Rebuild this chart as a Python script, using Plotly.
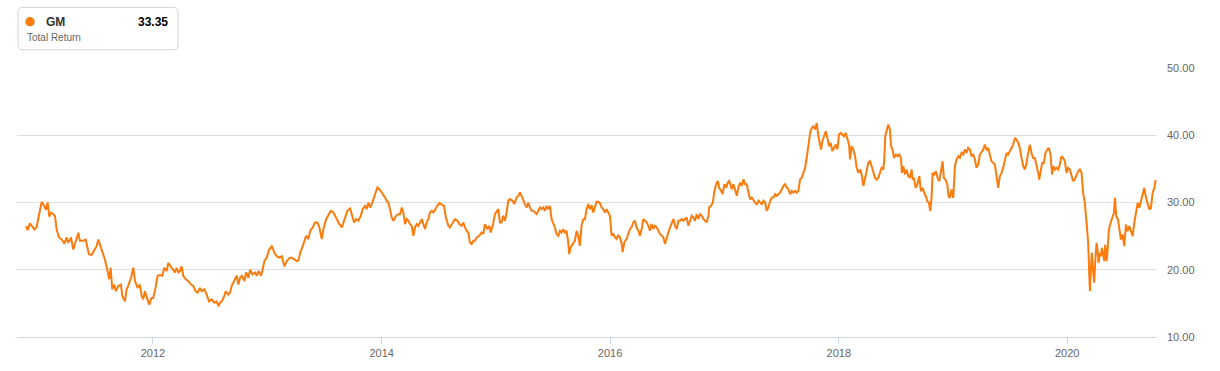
import numpy as np
import pandas as pd
import plotly.graph_objects as go

# ---------------- data ----------------
series_name = "GM"
series_subtitle = "Total Return"
last_value_label = "33.35"

# decimal years
years = [
    2010.889, 2010.903, 2010.924, 2010.944, 2010.962, 2010.982, 2010.991, 2011.011, 2011.026, 2011.049,
    2011.064, 2011.078, 2011.093, 2011.108, 2011.128, 2011.143, 2011.157, 2011.178, 2011.201, 2011.224,
    2011.245, 2011.259, 2011.283, 2011.303, 2011.326, 2011.347, 2011.361, 2011.390, 2011.411, 2011.420,
    2011.440, 2011.463, 2011.487, 2011.507, 2011.522, 2011.545, 2011.565, 2011.580, 2011.603, 2011.618,
    2011.630, 2011.644, 2011.662, 2011.676, 2011.697, 2011.720, 2011.732, 2011.755, 2011.770, 2011.784,
    2011.808, 2011.828, 2011.843, 2011.866, 2011.886, 2011.901, 2011.915, 2011.930, 2011.953, 2011.968,
    2011.988, 2012.003, 2012.023, 2012.041, 2012.061, 2012.082, 2012.099, 2012.120, 2012.134, 2012.157,
    2012.178, 2012.192, 2012.207, 2012.222, 2012.236, 2012.251, 2012.265, 2012.286, 2012.309, 2012.332,
    2012.353, 2012.373, 2012.391, 2012.411, 2012.426, 2012.449, 2012.470, 2012.490, 2012.513, 2012.537,
    2012.557, 2012.572, 2012.586, 2012.601, 2012.624, 2012.636, 2012.659, 2012.674, 2012.688, 2012.703,
    2012.717, 2012.732, 2012.747, 2012.761, 2012.776, 2012.799, 2012.814, 2012.834, 2012.849, 2012.869,
    2012.892, 2012.907, 2012.922, 2012.945, 2012.957, 2012.974, 2012.994, 2013.015, 2013.038, 2013.062,
    2013.082, 2013.102, 2013.126, 2013.149, 2013.169, 2013.190, 2013.213, 2013.237, 2013.257, 2013.272,
    2013.286,
    2013.315, 2013.339, 2013.359, 2013.374, 2013.397, 2013.417, 2013.438, 2013.455, 2013.476, 2013.490,
    2013.514, 2013.534, 2013.554, 2013.578, 2013.592, 2013.613, 2013.630, 2013.651, 2013.665, 2013.680,
    2013.700, 2013.724, 2013.738, 2013.759, 2013.776, 2013.796, 2013.817, 2013.834, 2013.855, 2013.869,
    2013.884, 2013.899, 2013.913, 2013.928, 2013.942, 2013.963, 2013.980, 2014.001, 2014.015, 2014.030,
    2014.044, 2014.059, 2014.073, 2014.088, 2014.103, 2014.126, 2014.146, 2014.161, 2014.176, 2014.190,
    2014.205, 2014.219, 2014.234, 2014.248, 2014.263, 2014.278, 2014.292, 2014.307, 2014.321, 2014.336,
    2014.351, 2014.365, 2014.380, 2014.394, 2014.409, 2014.423, 2014.438, 2014.453, 2014.467, 2014.488,
    2014.505, 2014.526, 2014.546, 2014.563, 2014.584, 2014.598, 2014.622, 2014.642, 2014.663, 2014.680,
    2014.700, 2014.715, 2014.730, 2014.744, 2014.759, 2014.773, 2014.788, 2014.803, 2014.817, 2014.832,
    2014.855, 2014.875, 2014.890, 2014.905, 2014.925, 2014.943, 2014.954, 2014.972, 2014.992, 2015.007,
    2015.021, 2015.036, 2015.050, 2015.065, 2015.080, 2015.094, 2015.109, 2015.123, 2015.147, 2015.161,
    2015.182, 2015.196, 2015.211, 2015.225, 2015.240, 2015.255, 2015.269, 2015.284, 2015.298, 2015.313,
    2015.327, 2015.342, 2015.357, 2015.371, 2015.386, 2015.400, 2015.415, 2015.430, 2015.444, 2015.459,
    2015.473, 2015.488, 2015.502, 2015.517, 2015.532, 2015.546, 2015.561, 2015.575, 2015.590, 2015.605,
    2015.619, 2015.634, 2015.642, 2015.654, 2015.672, 2015.692, 2015.707, 2015.721, 2015.736, 2015.750,
    2015.765, 2015.780,
    2015.795, 2015.809, 2015.824, 2015.838, 2015.853, 2015.867, 2015.882, 2015.897, 2015.911, 2015.926,
    2015.940, 2015.955, 2015.970, 2015.984, 2015.999, 2016.013, 2016.028, 2016.042, 2016.057, 2016.072,
    2016.086, 2016.101, 2016.110, 2016.124, 2016.145, 2016.159, 2016.174, 2016.188, 2016.203, 2016.217,
    2016.232, 2016.247, 2016.261, 2016.276, 2016.290, 2016.305, 2016.320, 2016.334, 2016.349, 2016.363,
    2016.378, 2016.392, 2016.407, 2016.422, 2016.436, 2016.451, 2016.465, 2016.480, 2016.494, 2016.509,
    2016.524, 2016.538, 2016.553, 2016.567, 2016.582, 2016.597, 2016.611, 2016.626, 2016.640, 2016.655,
    2016.669, 2016.684, 2016.699, 2016.713, 2016.728, 2016.742, 2016.757, 2016.772, 2016.786, 2016.801,
    2016.815, 2016.830, 2016.844, 2016.859, 2016.865, 2016.882, 2016.897, 2016.912, 2016.926, 2016.941,
    2016.952, 2016.970, 2016.982, 2016.999, 2017.014, 2017.028, 2017.040, 2017.052, 2017.063, 2017.078,
    2017.092, 2017.107, 2017.121, 2017.136, 2017.151, 2017.165, 2017.180, 2017.194, 2017.209, 2017.224,
    2017.238, 2017.253, 2017.267, 2017.282, 2017.297, 2017.311, 2017.326, 2017.340, 2017.355, 2017.369,
    2017.384, 2017.399, 2017.413, 2017.428, 2017.442, 2017.457, 2017.472, 2017.486, 2017.501, 2017.515,
    2017.530, 2017.544, 2017.559, 2017.574, 2017.588, 2017.603, 2017.617, 2017.632, 2017.646, 2017.661,
    2017.676, 2017.690, 2017.705, 2017.719, 2017.734, 2017.749, 2017.763, 2017.778, 2017.792, 2017.807,
    2017.821, 2017.836, 2017.845, 2017.856, 2017.871, 2017.886, 2017.900, 2017.915, 2017.929, 2017.944,
    2017.959, 2017.973, 2017.988, 2018.002, 2018.017, 2018.031, 2018.046, 2018.061, 2018.075, 2018.090,
    2018.098, 2018.113, 2018.128, 2018.142, 2018.157, 2018.171, 2018.186, 2018.200, 2018.215, 2018.230,
    2018.244, 2018.259, 2018.273,
    2018.288, 2018.302, 2018.317, 2018.331, 2018.346, 2018.360, 2018.375, 2018.390, 2018.398, 2018.407,
    2018.419, 2018.433, 2018.448, 2018.457, 2018.471, 2018.483, 2018.500, 2018.515, 2018.530, 2018.544,
    2018.553, 2018.565, 2018.579, 2018.594, 2018.608, 2018.623, 2018.638, 2018.646, 2018.658, 2018.673,
    2018.687, 2018.705, 2018.719, 2018.734, 2018.748, 2018.763, 2018.775, 2018.789, 2018.801, 2018.813,
    2018.821, 2018.836, 2018.850, 2018.865, 2018.880, 2018.894, 2018.909, 2018.920, 2018.935, 2018.950,
    2018.961, 2018.973, 2018.987, 2019.002, 2019.017, 2019.031, 2019.046, 2019.060, 2019.075, 2019.090,
    2019.104, 2019.119, 2019.133, 2019.148, 2019.162, 2019.177, 2019.192, 2019.206, 2019.221, 2019.235,
    2019.250, 2019.265, 2019.279, 2019.294, 2019.308, 2019.323, 2019.337, 2019.352, 2019.367, 2019.381,
    2019.396, 2019.410, 2019.425, 2019.439, 2019.454, 2019.469, 2019.483, 2019.498, 2019.512, 2019.527,
    2019.542, 2019.556, 2019.571, 2019.585, 2019.600, 2019.615, 2019.629, 2019.644, 2019.658, 2019.673,
    2019.687, 2019.702, 2019.717, 2019.731, 2019.746, 2019.755, 2019.766, 2019.781, 2019.795, 2019.810,
    2019.825, 2019.839, 2019.854, 2019.868, 2019.877, 2019.892, 2019.906, 2019.921, 2019.935, 2019.950,
    2019.964, 2019.979, 2019.994, 2020.008, 2020.023, 2020.037, 2020.052, 2020.066, 2020.081, 2020.096,
    2020.110, 2020.125, 2020.139, 2020.154, 2020.169, 2020.183, 2020.192, 2020.198, 2020.207, 2020.215,
    2020.227, 2020.236, 2020.244, 2020.256, 2020.265, 2020.274, 2020.285, 2020.294, 2020.303, 2020.314,
    2020.323, 2020.332, 2020.344, 2020.352, 2020.364, 2020.379, 2020.393, 2020.408, 2020.417, 2020.428,
    2020.443, 2020.454, 2020.469, 2020.484, 2020.498, 2020.513, 2020.527, 2020.542, 2020.557, 2020.571,
    2020.586, 2020.600, 2020.615, 2020.630, 2020.644, 2020.659, 2020.673, 2020.688, 2020.702, 2020.717,
    2020.731, 2020.746, 2020.761, 2020.772,
]

values = [
    26.5, 25.9, 26.9, 26.4, 26.0, 26.4, 27.1, 28.8, 30.1, 29.5,
    28.9, 30.0, 27.9, 28.5, 28.3, 27.9, 26.0, 24.8, 24.5, 23.9,
    24.8, 24.0, 24.8, 23.0, 24.5, 25.5, 24.3, 24.3, 24.5, 23.8,
    22.3, 22.2, 23.0, 23.5, 24.5, 23.3, 22.5, 21.5, 19.8, 18.6,
    20.3, 17.1, 17.8, 16.8, 17.6, 17.8, 16.1, 15.3, 17.1, 17.6,
    18.8, 20.3, 18.3, 17.3, 17.8, 16.1, 15.6, 16.8, 15.6, 14.8,
    15.8, 15.8, 17.3, 19.1, 19.2, 19.1, 20.3, 19.8, 21.0, 20.5,
    20.0, 19.6, 20.3, 19.6, 19.8, 20.5, 19.1, 18.6, 18.3, 17.8,
    17.6, 16.8, 16.6, 17.3, 16.8, 17.1, 16.3, 15.3, 15.6, 15.1,
    15.3, 14.6, 15.1, 15.3, 16.1, 16.8, 16.3, 16.6, 17.6, 18.1,
    18.8, 19.1, 17.8, 18.8, 19.1, 18.3, 19.6, 18.8, 20.0, 19.3,
    19.6, 19.1, 19.8, 19.1, 20.0, 21.3, 21.8, 23.0, 23.5, 22.5,
    22.0, 21.8, 22.0, 20.5, 21.3, 21.7, 21.8, 21.5, 21.3, 21.4,
    22.5,
    23.81, 25.05, 24.55, 25.79, 26.29, 27.03, 27.03, 26.29, 24.55, 26.04,
    27.52, 28.27, 28.76, 28.51, 28.02, 27.52, 26.78, 26.29, 27.03, 28.02,
    28.76, 29.11, 28.27, 27.03, 27.52, 27.28, 28.02, 29.01, 29.50, 29.01,
    30.00, 29.26, 29.75, 30.50, 31.49, 32.23, 31.98, 31.49, 30.99, 30.74,
    30.25, 30.00, 29.01, 27.77, 27.28, 28.02, 28.27, 28.27, 29.26, 28.51,
    26.78, 27.52, 27.28, 26.78, 26.53, 25.05, 26.29, 26.78, 26.53, 27.03,
    27.52, 26.78, 26.04, 27.03, 27.52, 28.51, 28.76, 28.51, 29.01, 29.50,
    29.90, 29.75, 29.50, 27.77, 26.53, 26.29, 27.03, 27.52, 27.28, 26.78,
    26.53, 27.03, 26.29, 25.79, 25.54, 24.06, 23.81, 24.31, 24.31, 24.80,
    25.05, 25.54, 25.30, 26.78, 26.04, 26.53, 25.54, 26.53, 28.27, 28.76,
    29.01, 27.03, 27.03, 28.02, 27.28, 28.51, 30.25, 30.50, 30.25, 29.75,
    30.74, 30.99, 31.49, 30.99, 30.25, 29.75, 29.26, 30.00, 29.26, 28.76,
    28.76, 28.51, 28.27, 28.76, 29.26, 29.01, 29.26, 28.76, 29.50, 29.01,
    29.50, 27.52, 27.03, 26.29, 25.30, 25.05, 25.79, 25.54, 26.04, 25.54,
    25.79, 24.06, 22.33, 23.32, 23.81, 24.31, 25.79, 25.05, 23.56, 26.53,
    27.52, 27.52,
    29.01, 29.75, 29.01, 29.61, 28.52, 29.26, 30.10, 30.10, 29.90, 29.26,
    29.01, 28.52, 29.01, 28.52, 28.03, 25.07, 25.32, 24.83, 24.58, 25.17,
    24.83, 23.84, 22.61, 24.09, 24.58, 25.32, 26.06, 26.31, 27.04, 27.29,
    26.31, 25.81, 25.07, 26.06, 27.54, 27.29, 27.04, 26.55, 25.81, 26.80,
    26.06, 26.55, 26.31, 25.81, 25.32, 25.07, 24.83, 23.84, 24.83, 25.57,
    26.31, 26.80, 27.54, 26.55, 26.06, 27.29, 27.29, 27.54, 27.29, 27.54,
    27.78, 26.55, 27.29, 28.03, 27.78, 27.29, 28.28, 27.54, 28.28, 28.03,
    27.54, 27.29, 27.04, 28.03, 29.26, 29.51, 30.00, 31.72, 32.71, 33.20,
    32.22, 31.72, 31.23, 32.71, 32.22, 32.96, 33.20, 32.71, 31.97, 32.71,
    31.97, 30.99, 32.22, 32.96, 32.46, 33.45, 32.71, 32.71, 31.48, 30.49,
    30.74, 30.25, 30.00, 29.75, 30.25, 30.00, 29.75, 30.25, 30.00, 28.77,
    29.26, 30.25, 30.74, 30.74, 31.23, 30.99, 31.23, 31.48, 31.97, 32.46,
    32.71, 32.22, 31.97, 31.23, 31.72, 31.48, 31.72, 31.48, 31.72, 33.45,
    33.69, 34.43, 35.17, 36.65, 38.37, 40.34, 41.08, 41.33, 40.84, 41.82,
    39.85, 38.62, 37.88, 39.11, 39.85, 40.59, 39.61, 38.37, 38.87, 37.64,
    38.13, 38.62, 37.88, 40.10, 40.34, 40.10, 39.85, 40.34, 39.61, 38.62,
    36.40, 38.37, 37.88, 36.90, 35.17, 34.43, 34.93, 34.19, 32.46, 33.45,
    34.68, 35.91, 36.16,
    35.40, 34.65, 33.66, 33.42, 33.66, 34.41, 35.15, 34.90, 36.39, 39.85,
    40.59, 41.58, 40.84, 38.37, 37.87, 36.63, 37.13, 36.88, 37.13, 36.63,
    34.41, 35.40, 34.16, 34.90, 33.91, 33.66, 34.90, 33.42, 33.66, 32.18,
    32.67, 33.91, 31.68, 32.18, 31.44, 30.94, 30.20, 29.95, 28.71, 30.94,
    34.41, 34.16, 34.65, 33.66, 33.17, 34.90, 36.14, 33.66, 33.42, 32.67,
    30.94, 30.69, 31.93, 30.69, 35.40, 36.39, 36.88, 36.63, 37.38, 37.13,
    37.87, 37.38, 38.12, 37.87, 36.88, 37.13, 36.39, 35.15, 35.64, 37.13,
    37.62, 37.87, 38.61, 37.87, 38.12, 37.13, 36.14, 35.89, 35.64, 33.91,
    32.18, 33.91, 34.41, 35.15, 36.14, 37.38, 37.13, 37.62, 38.12, 38.61,
    39.60, 39.36, 38.86, 38.12, 36.63, 35.40, 34.90, 35.89, 37.38, 38.61,
    37.38, 36.63, 36.63, 35.64, 34.41, 33.42, 34.65, 35.89, 35.89, 37.38,
    37.87, 38.12, 37.13, 34.16, 35.40, 34.90, 35.15, 34.90, 35.64, 36.88,
    36.63, 36.14, 34.41, 35.15, 34.90, 33.91, 33.17, 33.42, 34.16, 34.65,
    34.90, 34.41, 31.44, 29.95, 26.98, 24.01, 19.55, 16.83, 20.05, 22.52,
    19.55, 18.07, 21.04, 24.01, 23.02, 21.04, 22.52, 22.03, 23.27, 22.03,
    21.29, 23.76, 21.29, 22.77, 25.99, 26.98, 27.72, 28.47, 30.69, 27.97,
    27.48, 26.24, 24.50, 25.25, 23.51, 26.73, 25.74, 26.49, 25.50, 25.00,
    26.98, 28.71, 29.95, 29.21, 30.20, 30.94, 32.18, 30.69, 29.70, 28.96,
    29.21, 31.44, 32.18, 33.35,
]

x_tick_years = [2012, 2014, 2016, 2018, 2020]
y_ticks = [10, 20, 30, 40, 50]
x_range_years = [2010.810, 2020.784]

# ---------------- helpers ----------------
def dec_to_ts(y):
    yr = int(np.floor(y))
    start = pd.Timestamp(year=yr, month=1, day=1)
    end = pd.Timestamp(year=yr + 1, month=1, day=1)
    return start + (end - start) * (y - yr)

dates = [dec_to_ts(y) for y in years]

LINE_COLOR = "#fb7b0c"
FONT = "Liberation Sans, Arial, sans-serif"

W, H = 1220, 371
L, R, T, B = 17, 63, 68, 30
PW, PH = W - L - R, H - T - B

def fx(px):
    return (px - L) / PW

def fy(py):
    return (H - B - py) / PH

# ---------------- figure ----------------
fig = go.Figure()
fig.add_trace(go.Scatter(
    x=dates, y=values, mode="lines",
    line=dict(color=LINE_COLOR, width=2),
    hoverinfo="skip", showlegend=False,
))

# legend box (rounded rectangle)
x0, x1, y0, y1, r = 18, 178, 6.5, 49.5, 5
path = (
    f"M {fx(x0 + r)},{fy(y0)} L {fx(x1 - r)},{fy(y0)} "
    f"Q {fx(x1)},{fy(y0)} {fx(x1)},{fy(y0 + r)} "
    f"L {fx(x1)},{fy(y1 - r)} Q {fx(x1)},{fy(y1)} {fx(x1 - r)},{fy(y1)} "
    f"L {fx(x0 + r)},{fy(y1)} Q {fx(x0)},{fy(y1)} {fx(x0)},{fy(y1 - r)} "
    f"L {fx(x0)},{fy(y0 + r)} Q {fx(x0)},{fy(y0)} {fx(x0 + r)},{fy(y0)} Z"
)
shapes = [
    dict(type="path", xref="paper", yref="paper", path=path,
         line=dict(color="#d4d4d4", width=1), fillcolor="white", layer="above"),
    dict(type="circle", xref="paper", yref="paper",
         x0=fx(25.3), x1=fx(34.7), y0=fy(25.7), y1=fy(16.3),
         line=dict(width=0), fillcolor=LINE_COLOR, layer="above"),
]

annotations = [
    dict(text=f"<b>{series_name}</b>", x=fx(44), y=fy(21), xref="paper", yref="paper",
         xanchor="left", yanchor="middle", showarrow=False,
         font=dict(family=FONT, size=12, color="#333333")),
    dict(text=f"<b>{last_value_label}</b>", x=fx(170), y=fy(21), xref="paper", yref="paper",
         xanchor="right", yanchor="middle", showarrow=False,
         font=dict(family=FONT, size=12, color="#000000")),
    dict(text=series_subtitle, x=fx(25), y=fy(37.5), xref="paper", yref="paper",
         xanchor="left", yanchor="middle", showarrow=False,
         font=dict(family=FONT, size=10, color="#666666")),
]

fig.update_layout(
    width=W, height=H, autosize=False,
    margin=dict(l=L, r=R, t=T, b=B, pad=0),
    paper_bgcolor="white", plot_bgcolor="white",
    font=dict(family=FONT, size=11, color="#666666"),
    shapes=shapes, annotations=annotations,
    showlegend=False,
    xaxis=dict(
        type="date",
        range=[dec_to_ts(x_range_years[0]), dec_to_ts(x_range_years[1])],
        tickvals=[pd.Timestamp(year=y, month=1, day=1) for y in x_tick_years],
        ticktext=[str(y) for y in x_tick_years],
        showgrid=False, zeroline=False,
        showline=True, linecolor="#ccd6eb", linewidth=1,
        ticks="outside", ticklen=6, tickcolor="#ccd6eb",
        tickfont=dict(family=FONT, size=11, color="#666666"),
    ),
    yaxis=dict(
        side="right", range=[10, 50],
        tickvals=y_ticks, ticktext=[f"{v:.2f}" for v in y_ticks],
        showgrid=True, gridcolor="#dedede", gridwidth=1,
        zeroline=False, showline=False, ticks="",
        ticklabelstandoff=9,
        tickfont=dict(family=FONT, size=11, color="#666666"),
    ),
)

fig.write_html("out.html")
